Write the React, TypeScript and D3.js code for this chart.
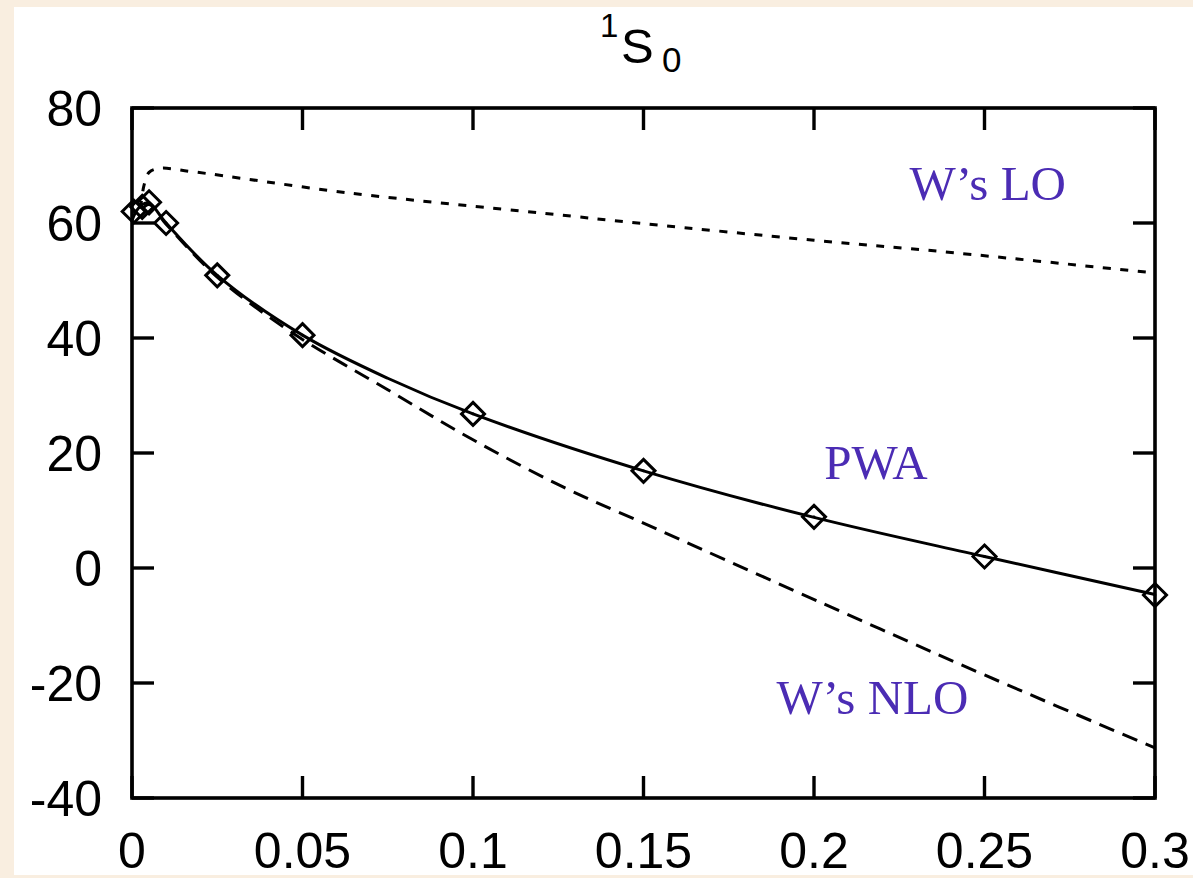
import React, { useRef, useEffect } from 'react';
import * as d3 from 'd3';

// energy (GeV) values
const pwaX = [0.0005, 0.003, 0.005, 0.01, 0.025, 0.05, 0.1, 0.15, 0.2, 0.25, 0.3];
const pwaY = [62.0, 62.8, 63.6, 60.0, 50.9, 40.5, 26.8, 16.9, 8.9, 2.0, -4.7];

// solid PWA curve
const curveX = [0, 0.001, 0.003, 0.005, 0.01, 0.025, 0.05, 0.075, 0.1, 0.15, 0.2, 0.25, 0.3];
const curveY = [60.4, 61.8, 63.2, 63.5, 60.0, 50.9, 40.5, 33.0, 26.8, 16.9, 8.8, 2.0, -4.6];

// W's LO (dotted)
const loX = [0.0025, 0.0035, 0.005, 0.008, 0.018, 0.064, 0.1205, 0.15, 0.2, 0.238, 0.3];
const loY = [62.5, 66.5, 68.8, 69.5, 68.9, 65.2, 61.7, 59.9, 57.0, 55.0, 51.3];

// W's NLO (dashed)
const nloX = [0.003, 0.005, 0.01, 0.025, 0.047, 0.075, 0.1, 0.1264, 0.15, 0.2194, 0.25, 0.3];
const nloY = [62.4, 63.2, 59.8, 50.6, 40.9, 31.0, 22.3, 14.1, 7.8, -10.6, -18.6, -31.3];

const xTicks = [0, 0.05, 0.1, 0.15, 0.2, 0.25, 0.3];
const xTickLabels = ['0', '0.05', '0.1', '0.15', '0.2', '0.25', '0.3'];
const yTicks = [-40, -20, 0, 20, 40, 60, 80];

const labels = [
  { text: 'W\u2019s LO', x: 0.228, y: 64.0 },
  { text: 'PWA', x: 0.203, y: 15.5 },
  { text: 'W\u2019s NLO', x: 0.189, y: -25.4 },
];

const W = 1193;
const H = 878;

const App = () => {
  const ref = useRef<SVGSVGElement>(null);

  useEffect(() => {
    const svg = d3.select(ref.current);
    svg.selectAll('*').remove();

    const left = 132, right = 1155, top = 108, bottom = 798;
    const x = d3.scaleLinear().domain([0, 0.3]).range([left, right]);
    const y = d3.scaleLinear().domain([-40, 80]).range([bottom, top]);

    svg.append('rect').attr('width', W).attr('height', H).attr('fill', '#f9eee0');
    svg.append('rect').attr('x', 14).attr('y', 7).attr('width', W - 14).attr('height', 868).attr('fill', '#fff');

    const sans = 'Liberation Sans, Arial, Helvetica, sans-serif';
    const serif = 'Liberation Serif, Times New Roman, serif';

    // title 1S0
    svg.append('text').attr('x', 600).attr('y', 37).attr('font-size', 33).attr('font-family', sans).text('1');
    svg.append('text').attr('x', 621).attr('y', 63).attr('font-size', 49).attr('font-family', sans).text('S');
    svg.append('text').attr('x', 662).attr('y', 72).attr('font-size', 35).attr('font-family', sans).text('0');

    const line = d3.line<[number, number]>()
      .x(d => x(d[0]))
      .y(d => y(d[1]))
      .curve(d3.curveCatmullRom.alpha(0.5));

    const g = svg.append('g');

    g.append('path')
      .attr('d', line(loX.map((v, i) => [v, loY[i]] as [number, number])))
      .attr('fill', 'none').attr('stroke', '#000').attr('stroke-width', 3)
      .attr('stroke-dasharray', '8,9.5');

    g.append('path')
      .attr('d', line(nloX.map((v, i) => [v, nloY[i]] as [number, number])))
      .attr('fill', 'none').attr('stroke', '#000').attr('stroke-width', 3)
      .attr('stroke-dasharray', '16,9');

    g.append('path')
      .attr('d', line(curveX.map((v, i) => [v, curveY[i]] as [number, number])))
      .attr('fill', 'none').attr('stroke', '#000').attr('stroke-width', 3);

    // diamonds
    const r = 11.5;
    g.selectAll('.pt')
      .data(pwaX.map((v, i) => [v, pwaY[i]]))
      .enter()
      .append('path')
      .attr('class', 'pt')
      .attr('d', d => `M${x(d[0])},${y(d[1]) - r}L${x(d[0]) + r},${y(d[1])}L${x(d[0])},${y(d[1]) + r}L${x(d[0]) - r},${y(d[1])}Z`)
      .attr('fill', 'none').attr('stroke', '#000').attr('stroke-width', 3);

    g.selectAll('.dot')
      .data(pwaX.map((v, i) => [v, pwaY[i]]))
      .enter()
      .append('circle')
      .attr('cx', d => x(d[0])).attr('cy', d => y(d[1])).attr('r', 1.4).attr('fill', '#000');

    // frame
    svg.append('rect')
      .attr('x', left).attr('y', top).attr('width', right - left).attr('height', bottom - top)
      .attr('fill', 'none').attr('stroke', '#000').attr('stroke-width', 3.6);

    const tl = 22;
    xTicks.forEach((t, i) => {
      svg.append('line').attr('x1', x(t)).attr('x2', x(t)).attr('y1', bottom).attr('y2', bottom - tl)
        .attr('stroke', '#000').attr('stroke-width', 3.4);
      svg.append('line').attr('x1', x(t)).attr('x2', x(t)).attr('y1', top).attr('y2', top + tl)
        .attr('stroke', '#000').attr('stroke-width', 3.4);
      svg.append('text').attr('x', x(t)).attr('y', bottom + 70)
        .attr('text-anchor', 'middle').attr('font-family', sans).attr('font-size', 50)
        .text(xTickLabels[i]);
    });

    yTicks.forEach(t => {
      svg.append('line').attr('x1', left).attr('x2', left + tl).attr('y1', y(t)).attr('y2', y(t))
        .attr('stroke', '#000').attr('stroke-width', 3.4);
      svg.append('line').attr('x1', right).attr('x2', right - tl).attr('y1', y(t)).attr('y2', y(t))
        .attr('stroke', '#000').attr('stroke-width', 3.4);
      svg.append('text').attr('x', 102).attr('y', y(t) + 18)
        .attr('text-anchor', 'end').attr('font-family', sans).attr('font-size', 50)
        .text(String(t));
    });

    labels.forEach(l => {
      svg.append('text').attr('x', x(l.x)).attr('y', y(l.y))
        .attr('font-family', serif).attr('font-size', 49).attr('fill', '#4b2cb4')
        .text(l.text);
    });
  }, []);

  return (
    <svg ref={ref} width={W} height={H}
      style={{ position: 'absolute', left: 0, top: 0, display: 'block' }} />
  );
};

export default App;
